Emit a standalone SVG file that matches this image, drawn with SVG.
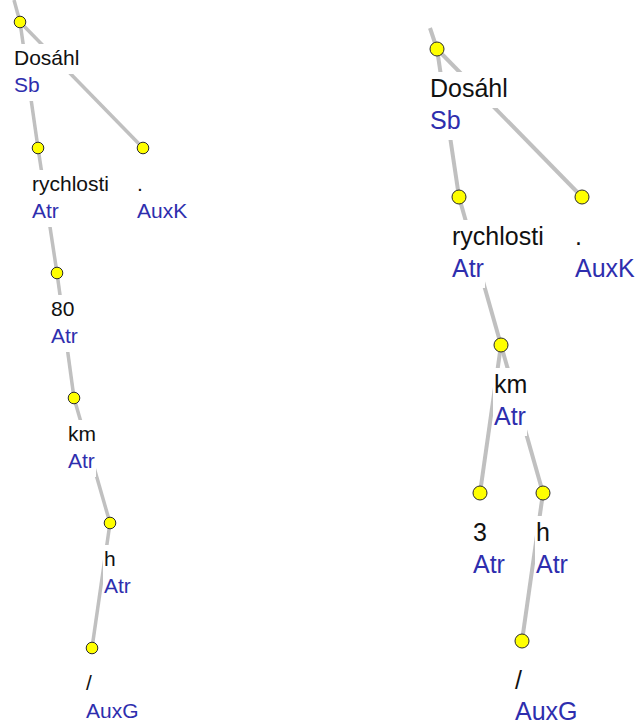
<svg xmlns="http://www.w3.org/2000/svg" width="637" height="724" viewBox="0 0 637 724">
<style>
.e1{stroke:#c0c0c0;stroke-width:3.5;fill:none;stroke-linecap:butt}
.e2{stroke:#c0c0c0;stroke-width:4;fill:none;stroke-linecap:butt}
.bg{fill:#ffffff}
.d1{fill:#ffff00;stroke:#2a2a2a;stroke-width:1}
.t{font-family:"Liberation Sans",Arial,sans-serif}
.L{font-size:21px}
.R{font-size:25px}
.w{fill:#111111}
.a{fill:#2e2eae}
</style>
<rect x="0" y="0" width="637" height="724" fill="#ffffff"/>
<g id="connectors">
<line class="e1" x1="14" y1="0" x2="20" y2="22"/>
<line class="e1" x1="20" y1="22" x2="38" y2="148"/>
<line class="e1" x1="20" y1="22" x2="143" y2="148"/>
<line class="e1" x1="38" y1="148" x2="57" y2="273"/>
<line class="e1" x1="57" y1="273" x2="74" y2="398"/>
<line class="e1" x1="74" y1="398" x2="110" y2="523"/>
<line class="e1" x1="110" y1="523" x2="92" y2="648"/>
<line class="e2" x1="430" y1="28" x2="437" y2="49"/>
<line class="e2" x1="437" y1="49" x2="459" y2="197"/>
<line class="e2" x1="437" y1="49" x2="582" y2="197"/>
<line class="e2" x1="459" y1="197" x2="501" y2="345"/>
<line class="e2" x1="501" y1="345" x2="480" y2="493"/>
<line class="e2" x1="501" y1="345" x2="543" y2="493"/>
<line class="e2" x1="543" y1="493" x2="522" y2="641"/>
</g>
<g id="L-dosahl">
<rect class="bg" x="13" y="44" width="67" height="30"/>
<rect class="bg" x="13" y="71" width="28" height="30"/>
<circle class="d1" cx="20" cy="22" r="5.8"/>
<text class="t L w" x="14" y="65">Dosáhl</text>
<text class="t L a" x="14" y="92">Sb</text>
</g>
<g id="L-rychlosti">
<rect class="bg" x="31" y="170" width="79" height="30"/>
<rect class="bg" x="31" y="197" width="29" height="30"/>
<circle class="d1" cx="38" cy="148" r="5.8"/>
<text class="t L w" x="32" y="191">rychlosti</text>
<text class="t L a" x="32" y="218">Atr</text>
</g>
<g id="L-auxk">
<rect class="bg" x="136" y="170" width="8" height="30"/>
<rect class="bg" x="136" y="197" width="52" height="30"/>
<circle class="d1" cx="143" cy="148" r="5.8"/>
<text class="t L w" x="137" y="191">.</text>
<text class="t L a" x="137" y="218">AuxK</text>
</g>
<g id="L-80">
<rect class="bg" x="50" y="295" width="26" height="30"/>
<rect class="bg" x="50" y="322" width="29" height="30"/>
<circle class="d1" cx="57" cy="273" r="5.8"/>
<text class="t L w" x="51" y="316">80</text>
<text class="t L a" x="51" y="343">Atr</text>
</g>
<g id="L-km">
<rect class="bg" x="67" y="420" width="30" height="30"/>
<rect class="bg" x="67" y="447" width="29" height="30"/>
<circle class="d1" cx="74" cy="398" r="5.8"/>
<text class="t L w" x="68" y="441">km</text>
<text class="t L a" x="68" y="468">Atr</text>
</g>
<g id="L-h">
<rect class="bg" x="103" y="545" width="14" height="30"/>
<rect class="bg" x="103" y="572" width="29" height="30"/>
<circle class="d1" cx="110" cy="523" r="5.8"/>
<text class="t L w" x="104" y="566">h</text>
<text class="t L a" x="104" y="593">Atr</text>
</g>
<g id="L-slash">
<rect class="bg" x="85" y="670" width="8" height="30"/>
<rect class="bg" x="85" y="697" width="55" height="27"/>
<circle class="d1" cx="92" cy="648" r="5.8"/>
<text class="t L w" x="86" y="690">/</text>
<text class="t L a" x="86" y="718">AuxG</text>
</g>
<g id="R-dosahl">
<rect class="bg" x="429" y="72" width="80" height="36"/>
<rect class="bg" x="429" y="104" width="33" height="36"/>
<circle class="d1" cx="437" cy="49" r="7"/>
<text class="t R w" x="430" y="97">Dosáhl</text>
<text class="t R a" x="430" y="129">Sb</text>
</g>
<g id="R-rychlosti">
<rect class="bg" x="451" y="220" width="94" height="36"/>
<rect class="bg" x="451" y="252" width="34" height="36"/>
<circle class="d1" cx="459" cy="197" r="7"/>
<text class="t R w" x="452" y="245">rychlosti</text>
<text class="t R a" x="452" y="277">Atr</text>
</g>
<g id="R-auxk">
<rect class="bg" x="574" y="220" width="9" height="36"/>
<rect class="bg" x="574" y="252" width="62" height="36"/>
<circle class="d1" cx="582" cy="197" r="7"/>
<text class="t R w" x="575" y="245">.</text>
<text class="t R a" x="575" y="277">AuxK</text>
</g>
<g id="R-km">
<rect class="bg" x="493" y="368" width="35" height="36"/>
<rect class="bg" x="493" y="400" width="34" height="36"/>
<circle class="d1" cx="501" cy="345" r="7"/>
<text class="t R w" x="494" y="393">km</text>
<text class="t R a" x="494" y="425">Atr</text>
</g>
<g id="R-3">
<rect class="bg" x="472" y="516" width="16" height="36"/>
<rect class="bg" x="472" y="548" width="34" height="36"/>
<circle class="d1" cx="480" cy="493" r="7"/>
<text class="t R w" x="473" y="541">3</text>
<text class="t R a" x="473" y="573">Atr</text>
</g>
<g id="R-h">
<rect class="bg" x="535" y="516" width="16" height="36"/>
<rect class="bg" x="535" y="548" width="34" height="36"/>
<circle class="d1" cx="543" cy="493" r="7"/>
<text class="t R w" x="536" y="541">h</text>
<text class="t R a" x="536" y="573">Atr</text>
</g>
<g id="R-slash">
<rect class="bg" x="514" y="664" width="9" height="36"/>
<rect class="bg" x="514" y="696" width="65" height="28"/>
<circle class="d1" cx="522" cy="641" r="7"/>
<text class="t R w" x="515" y="689">/</text>
<text class="t R a" x="515" y="720">AuxG</text>
</g>
</svg>
